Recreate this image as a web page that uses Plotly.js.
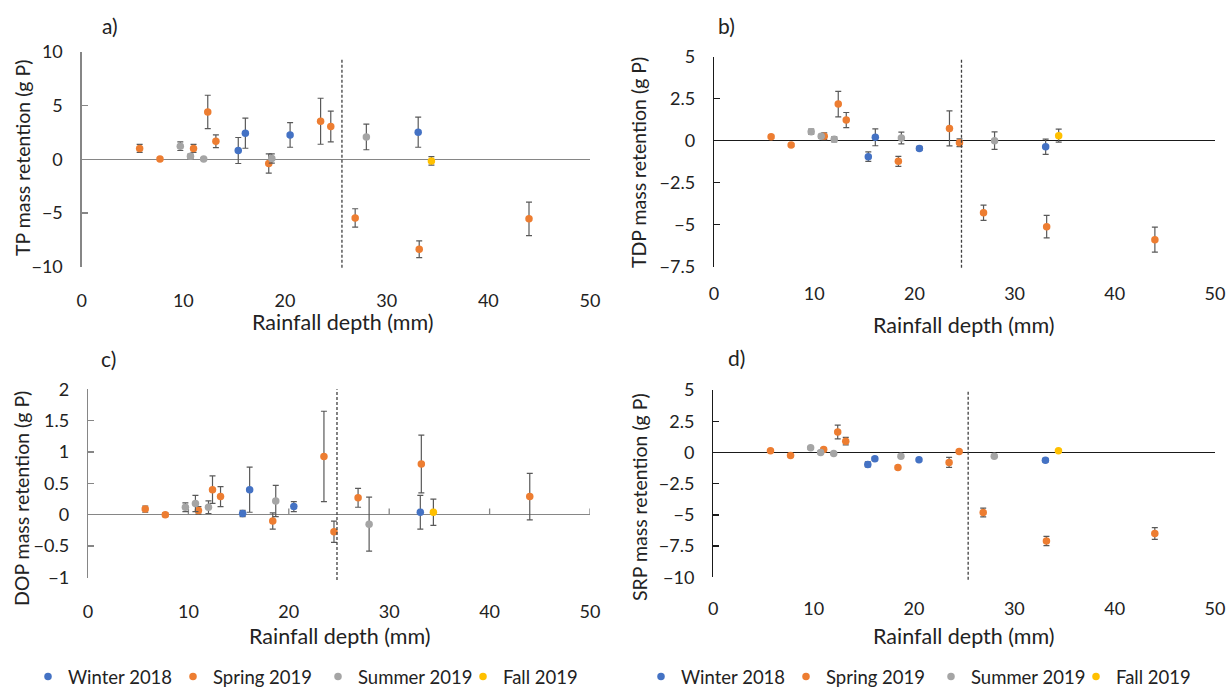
<!DOCTYPE html>
<html>
<head>
<meta charset="utf-8">
<script src="https://cdn.plot.ly/plotly-3.0.1.min.js"></script>
<style>html,body{margin:0;padding:0;background:#fff;}#chart{width:1230px;height:688px;}</style>
</head>
<body>
<div id="chart"></div>
<script>
// ---------- data ----------
const seasons = ["Winter 2018", "Spring 2019", "Summer 2019", "Fall 2019"];
const seasonColors = ["#4472C4", "#ED7D31", "#A5A5A5", "#FFC000"];

// rainfall depth (mm) of each event, by season
const winterRain = [15.4, 16.1, 20.5, 33.1];
const springRain = [5.7, 7.7, 11.0, 12.4, 13.2, 18.4, 23.5, 24.5, 26.9, 33.2, 44.0];
const summerRain = [9.7, 10.7, 12.0, 18.7, 28.0];
const fallRain = [34.4];

// a) TP mass retention (g P)
const tpWinter = [0.81, 2.42, 2.26, 2.51];
const tpWinterErr = [1.21, 1.4, 1.15, 1.4];
const tpSpring = [1.0, 0.03, 1.0, 4.4, 1.67, -0.4, 3.53, 3.04, -5.46, -8.37, -5.55];
const tpSpringErr = [0.37, 0.12, 0.37, 1.55, 0.59, 0.9, 2.14, 1.43, 0.85, 0.78, 1.55];
const tpSummer = [1.21, 0.28, 0.03, 0.07, 2.07];
const tpSummerErr = [0.4, 0.2, 0.12, 0.43, 1.19];
const tpFall = [-0.16];
const tpFallErr = [0.4];

// b) TDP mass retention (g P)
const tdpWinter = [-0.95, 0.2, -0.46, -0.36];
const tdpWinterErr = [0.28, 0.5, 0.12, 0.45];
const tdpSpring = [0.24, -0.26, 0.26, 2.18, 1.23, -1.23, 0.73, -0.12, -4.29, -5.12, -5.89];
const tdpSpringErr = [0.1, 0.08, 0.2, 0.76, 0.45, 0.3, 1.04, 0.23, 0.45, 0.67, 0.74];
const tdpSummer = [0.54, 0.26, 0.08, 0.16, 0.0];
const tdpSummerErr = [0.15, 0.12, 0.15, 0.35, 0.52];
const tdpFall = [0.3];
const tdpFallErr = [0.39];

// c) DOP mass retention (g P)
const dopWinter = [0.02, 0.40, 0.13, 0.04];
const dopWinterErr = [0.05, 0.36, 0.08, 0.27];
const dopSpring = [0.09, 0.0, 0.07, 0.40, 0.29, -0.10, 0.93, -0.27, 0.27, 0.81, 0.29];
const dopSpringErr = [0.05, 0.03, 0.06, 0.22, 0.16, 0.13, 0.72, 0.17, 0.15, 0.46, 0.37];
const dopSummer = [0.12, 0.18, 0.12, 0.22, -0.15];
const dopSummerErr = [0.07, 0.13, 0.1, 0.25, 0.43];
const dopFall = [0.04];
const dopFallErr = [0.21];

// d) SRP mass retention (g P)
const srpWinter = [-0.96, -0.51, -0.59, -0.62];
const srpWinterErr = [0.2, 0.15, 0.1, 0.15];
const srpSpring = [0.13, -0.24, 0.24, 1.63, 0.9, -1.2, -0.8, 0.08, -4.81, -7.1, -6.49];
const srpSpringErr = [0.1, 0.1, 0.1, 0.55, 0.3, 0.15, 0.4, 0.1, 0.35, 0.37, 0.47];
const srpSummer = [0.37, 0.0, -0.08, -0.3, -0.3];
const srpSummerErr = [0.1, 0.1, 0.08, 0.1, 0.1];
const srpFall = [0.13];
const srpFallErr = [0.1];

// dashed threshold rainfall line per panel (mm)
const thresholdA = 25.6, thresholdB = 24.7, thresholdC = 24.8, thresholdD = 25.4;

const xTicks = [0, 10, 20, 30, 40, 50];
const panelLetters = ["a)", "b)", "c)", "d)"];
const yTitles = ["TP mass retention (g P)", "TDP mass retention (g P)", "DOP mass retention (g P)", "SRP mass retention (g P)"];
const xTitle = "Rainfall depth (mm)";

// ---------- build ----------
const rains = [winterRain, springRain, summerRain, fallRain];
const panels = [
  {ax: "", vals: [tpWinter, tpSpring, tpSummer, tpFall], errs: [tpWinterErr, tpSpringErr, tpSummerErr, tpFallErr], legend: null},
  {ax: "2", vals: [tdpWinter, tdpSpring, tdpSummer, tdpFall], errs: [tdpWinterErr, tdpSpringErr, tdpSummerErr, tdpFallErr], legend: null},
  {ax: "3", vals: [dopWinter, dopSpring, dopSummer, dopFall], errs: [dopWinterErr, dopSpringErr, dopSummerErr, dopFallErr], legend: "legend"},
  {ax: "4", vals: [srpWinter, srpSpring, srpSummer, srpFall], errs: [srpWinterErr, srpSpringErr, srpSummerErr, srpFallErr], legend: "legend2"}
];

const FONT = "Lato, 'Open Sans', sans-serif";
const TXT = "#222222";
const TICKSIZE = 18, YTITLESIZE = 19.5, XTITLESIZE = 21.5, LEGSIZE = 18.5;
const traces = [];
panels.forEach(p => {
  seasons.forEach((s, i) => {
    traces.push({
      type: "scatter", mode: "markers",
      x: rains[i], y: p.vals[i],
      xaxis: "x" + p.ax, yaxis: "y" + p.ax,
      name: s,
      marker: {color: seasonColors[i], size: 7.5},
      error_y: {type: "data", array: p.errs[i], visible: true, color: "#595959", thickness: 1.2, width: 3},
      showlegend: p.legend !== null,
      legend: p.legend || "legend",
      hoverinfo: "x+y"
    });
  });
});

function xax(domain, standoff) {
  return {
    domain: domain, range: [0, 50], tickvals: xTicks, ticktext: xTicks.map(String),
    showgrid: false, zeroline: false, showline: false, ticks: "",
    tickfont: {family: FONT, size: TICKSIZE, color: TXT}, ticklabelstandoff: standoff, fixedrange: true
  };
}
function yax(domain, range, dtick, lineColor, anchor) {
  return {
    domain: domain, range: range, dtick: dtick, tick0: 0, anchor: anchor,
    showgrid: false, zeroline: true, zerolinecolor: lineColor, zerolinewidth: 1.2,
    showline: true, linecolor: lineColor, linewidth: 1.3,
    ticks: "inside", ticklen: 6, tickcolor: lineColor, tickwidth: 1.3,
    tickfont: {family: FONT, size: TICKSIZE, color: TXT}, ticklabelstandoff: 14, fixedrange: true
  };
}

const W = 1230, H = 688;
const px = v => v / W, py = v => 1 - v / H;

const GRAY = "#868686", BLACK = "#1a1a1a";
const legendBase = {orientation: "h", xanchor: "left", yanchor: "middle",
  font: {family: FONT, size: LEGSIZE, color: TXT}, itemwidth: 30, tracegroupgap: 0,
  entrywidth: 100, entrywidthmode: "pixels", bgcolor: "rgba(0,0,0,0)"};
const layout = {
  width: W, height: H,
  margin: {l: 0, r: 0, t: 0, b: 0, pad: 0, autoexpand: false},
  paper_bgcolor: "#ffffff", plot_bgcolor: "#ffffff",
  showlegend: true,
  xaxis: Object.assign(xax([px(81.7), px(590)], 21), {anchor: "y"}),
  yaxis: yax([py(266.7), py(51.7)], [-10, 10], 5, GRAY, "x"),
  xaxis2: Object.assign(xax([px(714), px(1215)], 14), {anchor: "y2"}),
  yaxis2: yax([py(266.7), py(56.7)], [-7.5, 5], 2.5, BLACK, "x2"),
  xaxis3: Object.assign(xax([px(88), px(590)], 21), {anchor: "y3"}),
  yaxis3: yax([py(577.5), py(389.3)], [-1, 2], 0.5, GRAY, "x3"),
  xaxis4: Object.assign(xax([px(713.3), px(1215)], 19), {anchor: "y4"}),
  yaxis4: yax([py(577.3), py(390)], [-10, 5], 2.5, BLACK, "x4"),
  legend: Object.assign({x: px(28), y: py(677)}, legendBase),
  legend2: Object.assign({x: px(641), y: py(677)}, legendBase),
  shapes: [],
  annotations: []
};

// dashed threshold lines
[[thresholdA, "x", "y", -0.005, 0.97], [thresholdB, "x2", "y2", -0.005, 0.994],
 [thresholdC, "x3", "y3", -0.013, 1.0], [thresholdD, "x4", "y4", -0.013, 1.0]].forEach(t => {
  layout.shapes.push({type: "line", xref: t[1], yref: t[2] + " domain", x0: t[0], x1: t[0], y0: t[3], y1: t[4],
    line: {color: "#404040", width: 1.3, dash: "3px,2px"}, layer: "above"});
});
// small tick marks on the zero line of panel c
xTicks.slice(1).forEach(v => {
  layout.shapes.push({type: "line", xref: "x3", yref: "y3", x0: v, x1: v, y0: 0, y1: 0.1,
    line: {color: GRAY, width: 1.3}, layer: "below"});
});

// panel letters
[[110, 26], [726, 26], [108, 358], [736, 357]].forEach((pos, i) => {
  layout.annotations.push({text: panelLetters[i], xref: "paper", yref: "paper", x: px(pos[0]), y: py(pos[1]),
    xanchor: "center", yanchor: "middle", showarrow: false, font: {family: FONT, size: 21, color: TXT}});
});
// y axis titles
[[23, 158], [639, 163], [22, 499], [640, 497]].forEach((pos, i) => {
  layout.annotations.push({text: yTitles[i], xref: "paper", yref: "paper", x: px(pos[0]), y: py(pos[1]),
    xanchor: "center", yanchor: "middle", textangle: -90, showarrow: false, font: {family: FONT, size: YTITLESIZE, color: TXT}});
});
// x axis titles
[[343, 322], [964, 325], [340, 636], [964, 636]].forEach(pos => {
  layout.annotations.push({text: xTitle, xref: "paper", yref: "paper", x: px(pos[0]), y: py(pos[1]),
    xanchor: "center", yanchor: "middle", showarrow: false, font: {family: FONT, size: XTITLESIZE, color: TXT}});
});

Plotly.newPlot("chart", traces, layout, {displayModeBar: false, staticPlot: true});
</script>
</body>
</html>
